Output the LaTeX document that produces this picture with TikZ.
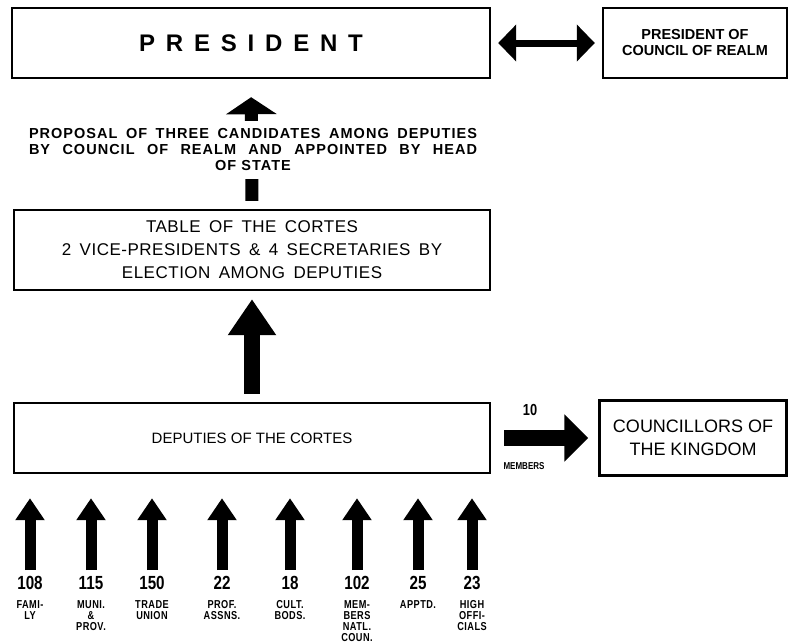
\documentclass[tikz,border=0pt]{standalone}
\usepackage{fontspec}
\setmainfont{Liberation Sans}
\newfontfamily\condfont[FakeStretch=0.8]{Liberation Sans}
\newfontfamily\widefont[LetterSpace=3,WordSpace=1.6]{Liberation Sans}
\newfontfamily\propfont[LetterSpace=7]{Liberation Sans}
\usetikzlibrary{arrows.meta,positioning}

\begin{document}
\begin{tikzpicture}[x=1pt, y=-1pt,
  orgbox/.style={draw, line width=2.4pt, align=center, inner sep=0pt,
    font=\fontsize{15}{23}\selectfont},
  fatarrow/.style={line width=16pt, -{Triangle[width=46pt,length=36pt]}},
  midarrow/.style={line width=13pt, -{Triangle[width=50pt,length=17pt]}},
  seatarrow/.style={line width=11pt, -{Triangle[width=28pt,length=22pt]}},
  seatnum/.style={font=\condfont\bfseries\fontsize{19}{19}\selectfont},
  seatlab/.style={anchor=north, align=center, inner sep=0pt,
    font={\condfont\bfseries\fontsize{11.5}{11}\selectfont\addfontfeature{LetterSpace=4}}}]
% Chart of the Cortes exported as pixel grid
\providecommand{\cortesBoxWidth}{476}
\providecommand{\cortesLineWidth}{448pt}
\useasboundingbox (0,0) rectangle (794,643);
% Top row
\node[orgbox, minimum width=478pt, minimum height=70pt,
  font=\bfseries\fontsize{24}{28}\selectfont] (pres) at (251,43)
  {\addfontfeature{LetterSpace=45}PRESIDENT};
\node[orgbox, minimum width=184pt, minimum height=70pt,
  font=\bfseries\fontsize{14.5}{16}\selectfont] (cpr) at (695,43)
  {PRESIDENT OF\\COUNCIL OF REALM};
\draw[line width=7pt, {Triangle[width=36pt,length=18pt]}-{Triangle[width=36pt,length=18pt]},
  shorten <=7pt, shorten >=7pt] (pres.east) -- (cpr.west);
% Table of the Cortes
\node[orgbox, minimum width=\cortesBoxWidth pt, minimum height=80pt,
  font=\widefont\fontsize{17}{23}\selectfont] (tab) at (252,250)
  {TABLE OF THE CORTES\\2 VICE-PRESIDENTS \& 4 SECRETARIES BY\\ELECTION AMONG DEPUTIES};
\draw[midarrow, shorten <=8pt, shorten >=18pt] (tab.north) -- (pres.south);
\node[fill=white, align=center, inner xsep=2pt, inner ysep=8pt,
  font=\propfont\bfseries\fontsize{14.5}{16}\selectfont] (prop) at (253,150)
  {\makebox[\cortesLineWidth][s]{PROPOSAL OF THREE CANDIDATES AMONG DEPUTIES}\\
   \makebox[\cortesLineWidth][s]{BY COUNCIL OF REALM AND APPOINTED BY HEAD}\\
   OF STATE};
% Deputies
\node[orgbox, minimum width=\cortesBoxWidth pt, minimum height=70pt] (dep) at (252,438)
  {DEPUTIES OF THE CORTES};
\draw[fatarrow, shorten <=8pt, shorten >=8pt] (dep.north) -- (tab.south);
\node[orgbox, minimum width=187pt, minimum height=75pt,
  font=\fontsize{18}{23}\selectfont] (coun) at (693,438)
  {COUNCILLORS OF\\THE KINGDOM};
\draw[line width=16pt, -{Triangle[width=46pt,length=24pt]}, shorten <=13pt, shorten >=10pt]
  (dep.east) -- (coun.west);
\node[seatnum, font=\condfont\bfseries\fontsize{16}{16}\selectfont] (ten) at (530,410) {10};
\node[seatlab, font=\condfont\bfseries\fontsize{10}{10}\selectfont] (mem) at (524,462) {MEMBERS};
% Groups sending deputies
\foreach \x/\num/\lab [count=\i] in {30/108/{FAMI-\\LY}, 91/115/{MUNI.\\\&\\PROV.},
    152/150/{TRADE\\UNION}, 222/22/{PROF.\\ASSNS.}, 290/18/{CULT.\\BODS.},
    357/102/{MEM-\\BERS\\NATL.\\COUN.}, 418/25/{APPTD.}, 472/23/{HIGH\\OFFI-\\CIALS}} {
  \coordinate (src\i) at (\x,570);
  \draw[seatarrow, shorten >=24pt] (src\i) -- (dep.south -| src\i);
  \node[seatnum] (num\i) at (\x,583) {\num};
  \node[seatlab] (lab\i) at (\x,600) {\lab};
}
\end{tikzpicture}
\end{document}
